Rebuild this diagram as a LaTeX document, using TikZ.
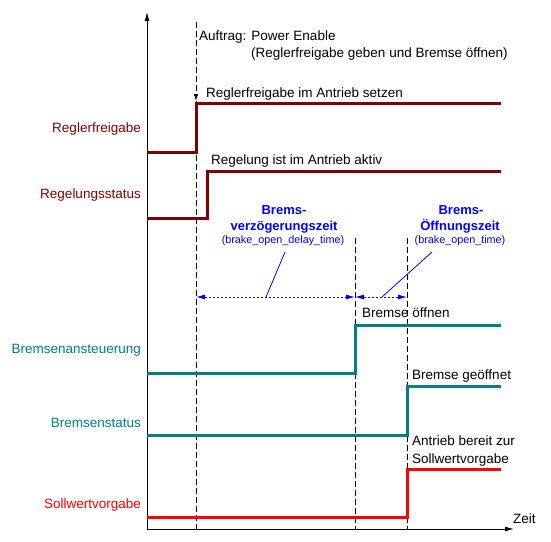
\documentclass[tikz,border=0pt]{standalone}
\usepackage{fontspec}
\setmainfont{Liberation Sans}
\usetikzlibrary{positioning,arrows.meta}
\definecolor{mydarkred}{RGB}{128,0,0}
\definecolor{myteal}{RGB}{0,128,128}
\definecolor{myblue}{RGB}{0,0,255}
\definecolor{myred}{RGB}{255,0,0}

\begin{document}
\begin{tikzpicture}[x=1pt,y=-1pt,inner sep=0pt,node distance=3pt and 0pt]
\tikzstyle{txt}=[font=\fontsize{13.5}{15}\selectfont, anchor=base west]
\tikzstyle{lbl}=[font=\fontsize{13.5}{15}\selectfont, anchor=base east]
\tikzstyle{btxt}=[font=\fontsize{13}{15}\selectfont\bfseries, text=myblue, anchor=base]
\tikzstyle{stxt}=[font=\fontsize{10.8}{12}\selectfont, text=myblue, anchor=base]
\tikzstyle{sig}=[line width=3pt]
\tikzstyle{axis}=[-{Latex[length=9pt,width=5pt]}, line width=1pt]
\tikzstyle{tmark}=[line width=0.8pt, dash pattern=on 6pt off 3pt]
\tikzstyle{dim}=[{Latex[length=9pt,width=5pt]}-{Latex[length=9pt,width=5pt]}, myblue, line width=0.8pt, dash pattern=on 2pt off 2pt]
\tikzstyle{lead}=[myblue, line width=0.8pt]
\useasboundingbox (0,0) rectangle (551,541);
% axes
\coordinate (o) at (147,529);
\coordinate (ytop) at (147,12);
\coordinate (xend) at (514,529);
\draw[axis] (o) -- (ytop);
\draw[axis] (o) -- (xend);
\node[txt] (zeit) at (513,523) {Zeit};
% time markers
\coordinate (t0top) at (196,22);
\coordinate (t0arr) at (196,101);
\coordinate (t0) at (196,529);
\coordinate (t1top) at (355,238);
\coordinate (t1) at (355,529);
\coordinate (t2top) at (407,238);
\coordinate (t2) at (407,529);
\draw[tmark,-{Latex[length=7pt,width=4.5pt]}] (t0top) -- (t0arr);
\draw[tmark] (t0arr) -- (t0);
\draw[tmark] (t1top) -- (t1);
\draw[tmark] (t2top) -- (t2);
% signals
\draw[sig,mydarkred] (147,152) -- (196,152) -- (196,103) -- (501,103);
\draw[sig,mydarkred] (147,218) -- (207,218) -- (207,171) -- (501,171);
\draw[sig,myteal] (147,373) -- (355,373) -- (355,325) -- (501,325);
\draw[sig,myteal] (147,435) -- (407,435) -- (407,386) -- (501,386);
\draw[sig,myred] (147,517) -- (407,517) -- (407,469) -- (501,469);
% signal names
\node[lbl,text=mydarkred] (regfrei) at (141,132) {Reglerfreigabe};
\node[lbl,text=mydarkred] (regstat) at (141,198) {Regelungsstatus};
\node[lbl,text=myteal] (bremsan) at (141,353) {Bremsenansteuerung};
\node[lbl,text=myteal] (bremsstat) at (141,427) {Bremsenstatus};
\node[lbl,text=myred] (sollw) at (141,508) {Sollwertvorgabe};
% events
\node[txt] (auftrag) at (199,40) {Auftrag: Power Enable};
\node[txt] (auftrag2) at (251,57) {(Reglerfreigabe geben und Bremse öffnen)};
\node[txt] (setzen) at (206,97) {Reglerfreigabe im Antrieb setzen};
\node[txt] (aktiv) at (211,164) {Regelung ist im Antrieb aktiv};
\node[txt] (oeffnen) at (362,317) {Bremse öffnen};
\node[txt] (geoeffnet) at (412,379) {Bremse geöffnet};
\node[txt] (bereit) at (412,445) {Antrieb bereit zur};
\node[txt] (bereit2) at (412,463) {Sollwertvorgabe};
% delay times
\coordinate (d0) at (196,297);
\coordinate (d1) at (355,297);
\coordinate (d2) at (407,297);
\draw[dim] (d0) -- (d1);
\draw[dim] (d1) -- (d2);
\node[btxt] (vz1) at (284,214) {Brems-};
\node[btxt] (vz2) at (284,230) {verzögerungszeit};
\node[stxt] (vz3) at (283,243) {(brake\_open\_delay\_time)};
\node[btxt] (oz1) at (461,214) {Brems-};
\node[btxt] (oz2) at (460,230) {Öffnungszeit};
\node[stxt] (oz3) at (460,243) {(brake\_open\_time)};
\coordinate (vzfoot) at (266,297);
\coordinate (vzhead) at (285,252);
\coordinate (ozfoot) at (382,297);
\coordinate (ozhead) at (432,252);
\draw[lead] (vzfoot) -- (vzhead);
\draw[lead] (ozfoot) -- (ozhead);
\end{tikzpicture}
\end{document}
